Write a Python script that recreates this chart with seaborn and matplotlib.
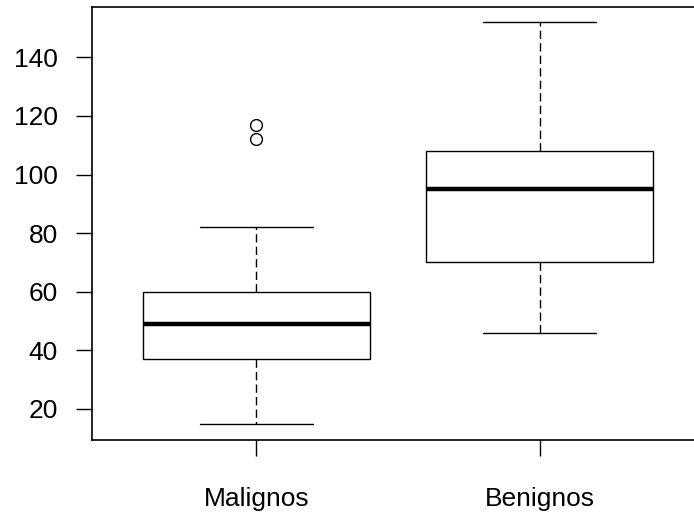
import pandas as pd
import matplotlib.pyplot as plt
import seaborn as sns

# ==================================================
# Data
# ==================================================
groups = ["Malignos", "Benignos"]
malignos = [15, 25, 32, 37, 42, 46, 49, 52, 56, 60, 82, 112, 117]
benignos = [46, 60, 70, 85, 95, 100, 108, 130, 152]
y_ticks = [20, 40, 60, 80, 100, 120, 140]

df = pd.DataFrame({
    "grupo": [groups[0]] * len(malignos) + [groups[1]] * len(benignos),
    "valor": malignos + benignos,
})

# ==================================================
# Figure
# ==================================================
sns.set_style("ticks")
plt.rcParams["font.family"] = ["Liberation Sans", "DejaVu Sans"]

fig = plt.figure(figsize=(6.94, 5.19), dpi=100)
# axes runs past the right edge, like the cropped original
ax = fig.add_axes([92 / 694, 1 - 440 / 519, 612 / 694, 433 / 519])

sns.boxplot(
    data=df, x="grupo", y="valor", order=groups, ax=ax,
    color="white", linecolor="black", saturation=1, width=0.8,
    linewidth=1.0,
    whiskerprops=dict(linestyle=(0, (6, 3)), linewidth=1.0),
    capprops=dict(linestyle="-", linewidth=1.0),
    medianprops=dict(linewidth=3.2, color="black"),
    flierprops=dict(marker="o", markerfacecolor="none",
                    markeredgecolor="black", markersize=8.5, markeredgewidth=1.0),
)

ax.set_xlim(-0.58, 1.58)
ax.set_ylim(9.4, 157.2)
ax.set_yticks(y_ticks)
ax.set_xlabel("")
ax.set_ylabel("")

for side in ["top", "left", "bottom", "right"]:
    ax.spines[side].set_visible(True)
    ax.spines[side].set_color("black")
    ax.spines[side].set_linewidth(1.2)

ax.tick_params(axis="both", direction="out", length=11.5, width=1.0,
               color="black", labelsize=19, labelcolor="black")
ax.tick_params(axis="y", pad=13)
ax.tick_params(axis="x", pad=22)

fig.savefig("out.png", dpi=100)
plt.close(fig)
